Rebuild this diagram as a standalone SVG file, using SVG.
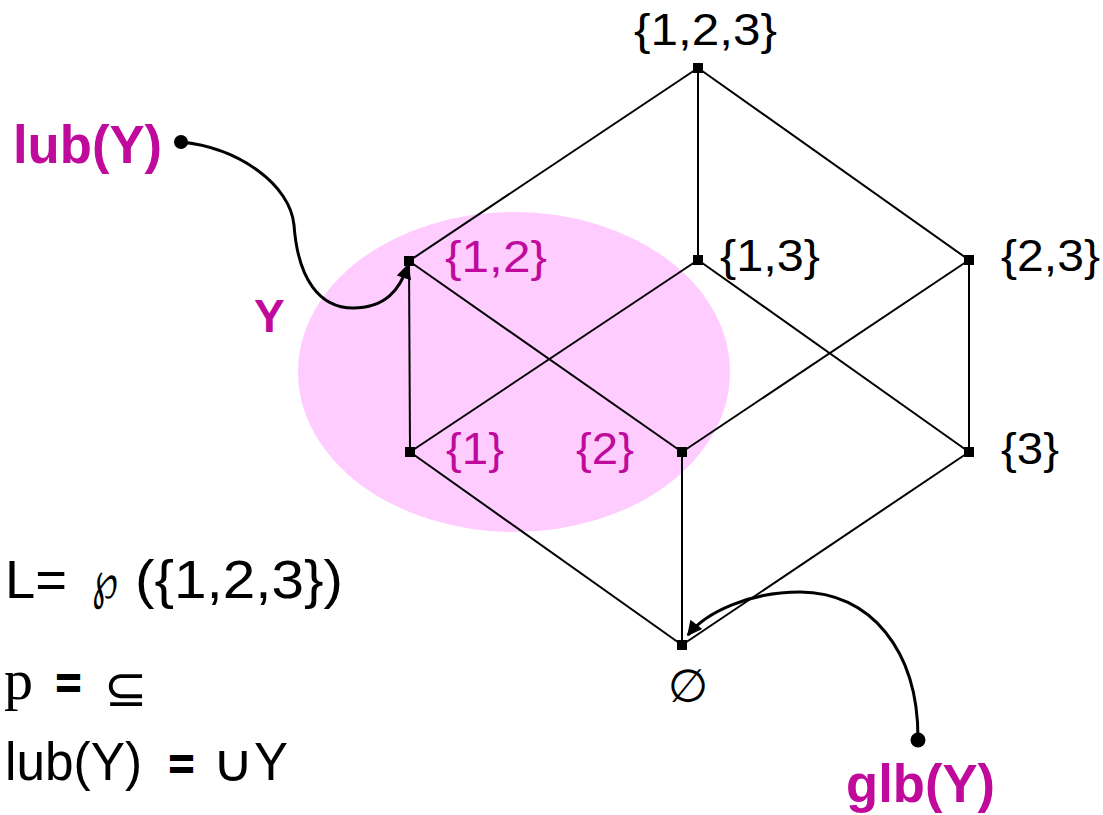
<svg xmlns="http://www.w3.org/2000/svg" width="1103" height="815" viewBox="0 0 1103 815">
<style>
.edge{stroke:#000;stroke-width:2;fill:none}
.curve{stroke:#000;stroke-width:3;fill:none}
.node{fill:#000}
.lbl{font-family:"Liberation Sans",Arial,sans-serif;font-size:45px;fill:#000}
.mg{fill:#C00A9C}
.big{font-family:"Liberation Sans",Arial,sans-serif;font-weight:bold;fill:#C00A9C}
.def{font-family:"Liberation Sans",Arial,sans-serif;font-size:54px;fill:#000}
.math{font-family:"DejaVu Sans",Verdana,sans-serif;font-size:52px;fill:#000}
</style>
<defs>
<marker id="ah" viewBox="0 0 10 10" refX="9" refY="5" markerWidth="6.5" markerHeight="5" orient="auto" markerUnits="strokeWidth">
<path d="M0,0 L10,5 L0,10 z" fill="#000"/>
</marker>
</defs>
<rect width="1103" height="815" fill="#fff"/>
<ellipse id="setY" cx="514" cy="372" rx="216" ry="160" fill="#FFCCFF"/>
<g id="connectors">
<line class="edge" x1="698" y1="68" x2="409" y2="261"/>
<line class="edge" x1="698" y1="68" x2="698" y2="260"/>
<line class="edge" x1="698" y1="68" x2="969" y2="260"/>
<line class="edge" x1="409" y1="261" x2="410" y2="452"/>
<line class="edge" x1="409" y1="261" x2="682" y2="452"/>
<line class="edge" x1="698" y1="260" x2="410" y2="452"/>
<line class="edge" x1="698" y1="260" x2="969" y2="452"/>
<line class="edge" x1="969" y1="260" x2="682" y2="452"/>
<line class="edge" x1="969" y1="260" x2="969" y2="452"/>
<line class="edge" x1="410" y1="452" x2="682" y2="645"/>
<line class="edge" x1="682" y1="452" x2="682" y2="645"/>
<line class="edge" x1="969" y1="452" x2="682" y2="645"/>
<path class="curve" d="M181,142 C240,148 290,185 294,225 C298,280 320,308 353,308 C385,308 400,290 408,265" marker-end="url(#ah)"/>
<path class="curve" d="M918,738 C918,650 870,592 800,592 C750,592 706,612 688,635" marker-end="url(#ah)"/>
<circle cx="181" cy="142" r="7" fill="#000"/>
<circle cx="918" cy="740" r="7.5" fill="#000"/>
</g>
<g id="n123"><rect class="node" x="693" y="63" width="10" height="10"/><text class="lbl" x="634" y="45" textLength="143" lengthAdjust="spacingAndGlyphs">{1,2,3}</text></g>
<g id="n12"><rect class="node" x="404" y="256" width="10" height="10"/><text class="lbl mg" x="445" y="272" textLength="102" lengthAdjust="spacingAndGlyphs">{1,2}</text></g>
<g id="n13"><rect class="node" x="693" y="255" width="10" height="10"/><text class="lbl" x="720" y="271" textLength="100" lengthAdjust="spacingAndGlyphs">{1,3}</text></g>
<g id="n23"><rect class="node" x="964" y="255" width="10" height="10"/><text class="lbl" x="1001" y="271" textLength="99" lengthAdjust="spacingAndGlyphs">{2,3}</text></g>
<g id="n1"><rect class="node" x="405" y="447" width="10" height="10"/><text class="lbl mg" x="446" y="464" textLength="58" lengthAdjust="spacingAndGlyphs">{1}</text></g>
<g id="n2"><rect class="node" x="677" y="447" width="10" height="10"/><text class="lbl mg" x="576" y="464" textLength="58" lengthAdjust="spacingAndGlyphs">{2}</text></g>
<g id="n3"><rect class="node" x="964" y="447" width="10" height="10"/><text class="lbl" x="1001" y="464" textLength="58" lengthAdjust="spacingAndGlyphs">{3}</text></g>
<g id="nempty"><rect class="node" x="677" y="640" width="10" height="10"/><text x="668" y="702" style="font-family:'DejaVu Sans',sans-serif;font-size:46px" fill="#000">∅</text></g>
<g id="labels">
<text class="big" x="13" y="163" font-size="53" textLength="149" lengthAdjust="spacingAndGlyphs">lub(Y)</text>
<text class="big" x="254" y="332" font-size="46">Y</text>
<text class="big" x="846" y="802" font-size="53" textLength="149" lengthAdjust="spacingAndGlyphs">glb(Y)</text>
</g>
<g id="definitions">
<text class="def" x="5" y="598" textLength="62" lengthAdjust="spacingAndGlyphs">L=</text>
<text class="math" x="92" y="598" textLength="26" lengthAdjust="spacingAndGlyphs">℘</text>
<text class="def" x="135" y="598" textLength="208" lengthAdjust="spacingAndGlyphs">({1,2,3})</text>
<text x="4" y="699" style="font-family:'Liberation Serif','Times New Roman',serif;font-size:58px" fill="#000">p</text>
<text class="math" x="53" y="699" font-weight="bold" textLength="31" lengthAdjust="spacingAndGlyphs">=</text>
<text class="math" x="104" y="706" font-size="48">⊆</text>
<text class="def" x="5" y="780" textLength="137" lengthAdjust="spacingAndGlyphs">lub(Y)</text>
<text class="math" x="166" y="780" font-weight="bold" textLength="31" lengthAdjust="spacingAndGlyphs">=</text>
<text class="math" x="212" y="781" font-size="54" textLength="42" lengthAdjust="spacingAndGlyphs">∪</text>
<text class="def" x="254" y="780" textLength="34" lengthAdjust="spacingAndGlyphs">Y</text>
</g>
</svg>
